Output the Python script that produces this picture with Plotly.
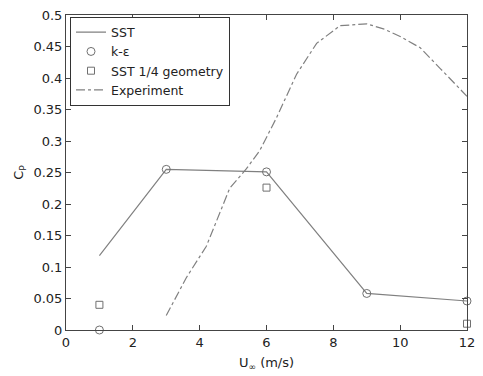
import plotly.graph_objects as go

sst_x = [1, 3, 6, 9, 12]
sst_y = [0.118, 0.255, 0.251, 0.058, 0.046]
ke_x = [1, 3, 6, 9, 12]
ke_y = [0.0, 0.255, 0.251, 0.058, 0.046]
q_x = [1, 6, 12]
q_y = [0.04, 0.226, 0.01]
exp_x = [3, 3.6, 4.2, 4.9, 5.4, 5.8, 6.3, 6.9, 7.5, 8.2, 9.0, 9.5, 10.0, 10.6, 11.2, 12]
exp_y = [0.023, 0.083, 0.133, 0.225, 0.256, 0.285, 0.337, 0.406, 0.455, 0.483, 0.486, 0.478, 0.466, 0.448, 0.415, 0.371]

grey = "#808080"
FONT = "DejaVu Sans, Arial"
fig = go.Figure()
fig.add_trace(go.Scatter(x=sst_x, y=sst_y, mode="lines", name="SST",
                         line=dict(color=grey, width=1.2), cliponaxis=False))
fig.add_trace(go.Scatter(x=ke_x, y=ke_y, mode="markers", name="k-ε",
                         marker=dict(symbol="circle-open", size=8, color="#707070", line=dict(width=1)),
                         cliponaxis=False))
fig.add_trace(go.Scatter(x=q_x, y=q_y, mode="markers", name="SST 1/4 geometry",
                         marker=dict(symbol="square-open", size=7, color="#707070", line=dict(width=1)),
                         cliponaxis=False))
fig.add_trace(go.Scatter(x=exp_x, y=exp_y, mode="lines", name="Experiment",
                         line=dict(color=grey, width=1.2, dash="dashdot"), cliponaxis=False))

axis_common = dict(showline=True, linecolor="#444", linewidth=1, mirror="ticks",
                   ticks="inside", ticklen=5, tickcolor="#444", showgrid=False, zeroline=False,
                   tickfont=dict(family=FONT, size=13, color="#222"))
fig.update_xaxes(range=[0, 12], dtick=2, title=dict(text="U<sub>∞</sub> (m/s)", standoff=9,
                 font=dict(family=FONT, size=13, color="#222")), **axis_common)
fig.update_yaxes(range=[0, 0.5], dtick=0.05, tickformat="~g",
                 title=dict(text="C<sub>P</sub>", standoff=6,
                 font=dict(family=FONT, size=13, color="#222")), **axis_common)

fig.update_layout(width=483, height=376, margin=dict(l=66, r=8, t=11, b=39),
                  plot_bgcolor="white", paper_bgcolor="white",
                  legend=dict(x=0.01, y=0.995, xanchor="left", yanchor="top",
                              bordercolor="#333", borderwidth=1, bgcolor="white",
                              font=dict(family=FONT, size=12.5, color="#222"),
                              tracegroupgap=0, itemwidth=30),
                  showlegend=True)
fig.write_html("out.html")
